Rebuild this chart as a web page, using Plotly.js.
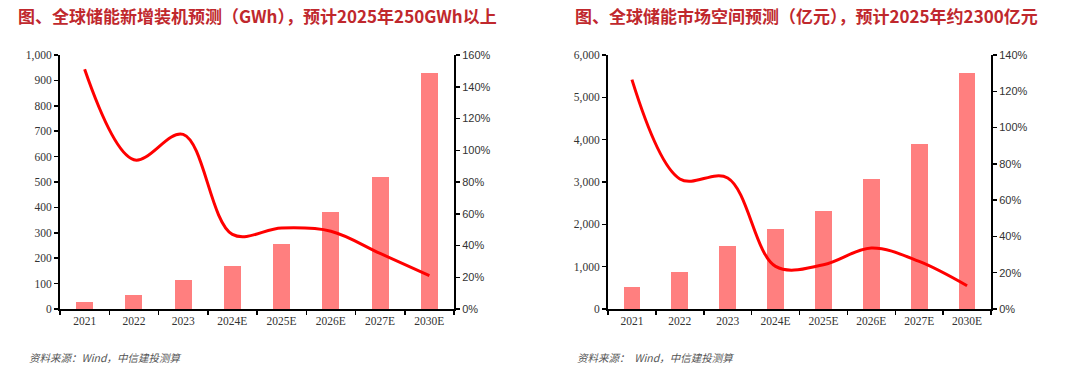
<!DOCTYPE html>
<html><head><meta charset="utf-8">
<script src="https://cdn.plot.ly/plotly-3.0.1.min.js"></script>
<style>html,body{margin:0;padding:0;background:#fff}#c{width:1080px;height:372px}</style>
</head><body><div id="c"></div>
<script>
const categories = ['2021','2022','2023','2024E','2025E','2026E','2027E','2030E'];
const installGWh = [29, 55, 114, 170, 256, 383, 518, 928];
const installGrowth = [1.51, 0.94, 1.10, 0.47, 0.51, 0.49, 0.35, 0.21];
const marketYi = [520, 874, 1495, 1890, 2306, 3071, 3898, 5575];
const marketGrowth = [1.264, 0.717, 0.722, 0.235, 0.244, 0.336, 0.262, 0.128];
const title1 = '图、全球储能新增装机预测（GWh），预计2025年250GWh以上';
const title2 = '图、全球储能市场空间预测（亿元），预计2025年约2300亿元';
const sourceText1 = '资料来源：Wind，中信建投测算';
const sourceText2 = '资料来源：  Wind，中信建投测算';

const barColor = '#FF7F7F', lineColor = '#FF0000';
const serif = 'Liberation Serif, Times New Roman, serif';
const sans = 'Liberation Sans, Arial, sans-serif';

const traces = [
  {type:'bar', x:categories, y:installGWh, xaxis:'x', yaxis:'y', marker:{color:barColor}, width:0.35},
  {type:'scatter', mode:'lines', x:categories, y:installGrowth, xaxis:'x', yaxis:'y2', line:{color:lineColor, width:3, shape:'spline', smoothing:1}},
  {type:'bar', x:categories, y:marketYi, xaxis:'x2', yaxis:'y3', marker:{color:barColor}, width:0.35},
  {type:'scatter', mode:'lines', x:categories, y:marketGrowth, xaxis:'x2', yaxis:'y4', line:{color:lineColor, width:3, shape:'spline', smoothing:1}}
];

const yDom = [1-309/372, 1-55/372];
const xAx = (dom, anchor) => ({domain:dom, anchor:anchor, type:'category', showline:true, linecolor:'#000', linewidth:2,
  ticks:'outside', tickson:'boundaries', ticklen:4, tickcolor:'#000', tickwidth:1.5,
  tickfont:{family:serif, size:11.5, color:'#333'}, showgrid:false, zeroline:false, fixedrange:true});
const yLeft = (range, dtick, anchor) => ({domain:yDom, anchor:anchor, range:range, dtick:dtick, tickformat:',d',
  showline:true, linecolor:'#000', linewidth:2, ticks:'outside', ticklen:4, tickcolor:'#000', tickwidth:1.5,
  tickfont:{family:serif, size:11.5, color:'#333'}, showgrid:false, zeroline:false});
const yRight = (range, anchor, overlay) => ({domain:yDom, anchor:anchor, overlaying:overlay, side:'right', range:range, dtick:0.2,
  tickformat:'.0%', showline:true, linecolor:'#000', linewidth:2, ticks:'outside', ticklen:4, tickcolor:'#000', tickwidth:1.5,
  tickfont:{family:sans, size:11, color:'#333'}, showgrid:false, zeroline:false});

const layout = {
  width:1080, height:372, margin:{l:0,r:0,t:0,b:0}, showlegend:false,
  paper_bgcolor:'#fff', plot_bgcolor:'rgba(0,0,0,0)', bargap:0,
  xaxis: xAx([60/1080, 454/1080], 'y'),
  yaxis: yLeft([0,1000], 100, 'x'),
  yaxis2: yRight([0,1.6], 'x', 'y'),
  xaxis2: xAx([608/1080, 991/1080], 'y3'),
  yaxis3: yLeft([0,6000], 1000, 'x2'),
  yaxis4: yRight([0,1.4], 'x2', 'y3'),
  annotations: [
    {text:'<b>'+title1+'</b>', xref:'paper', yref:'paper', x:16/1080, y:1-16/372, xanchor:'left', yanchor:'middle', showarrow:false,
     font:{family:'Noto Sans CJK SC, sans-serif', size:17, color:'#C0282D'}},
    {text:'<b>'+title2+'</b>', xref:'paper', yref:'paper', x:573/1080, y:1-16/372, xanchor:'left', yanchor:'middle', showarrow:false,
     font:{family:'Noto Sans CJK SC, sans-serif', size:17, color:'#C0282D'}},
    {text:'<i>'+sourceText1+'</i>', xref:'paper', yref:'paper', x:27/1080, y:1-357/372, xanchor:'left', yanchor:'middle', showarrow:false,
     font:{family:'Noto Sans CJK SC, sans-serif', size:10.5, color:'#555'}},
    {text:'<i>'+sourceText2+'</i>', xref:'paper', yref:'paper', x:575/1080, y:1-357/372, xanchor:'left', yanchor:'middle', showarrow:false,
     font:{family:'Noto Sans CJK SC, sans-serif', size:10.5, color:'#555'}}
  ]
};
Plotly.newPlot('c', traces, layout, {staticPlot:true, displayModeBar:false});
</script></body></html>
